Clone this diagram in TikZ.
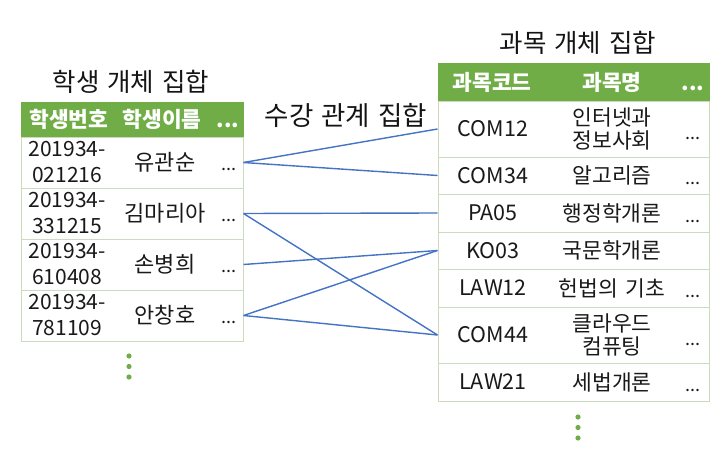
\documentclass[tikz,border=0pt]{standalone}
\usepackage{fontspec}
\setmainfont{Noto Sans CJK KR}
\newcommand{\wgap}{\hspace{8pt}}
\begin{document}
\begin{tikzpicture}[x=1pt,y=-1pt,
  grid/.style={draw={rgb,255:red,204;green,218;blue,190},line width=1pt,fill=white,inner sep=0pt},
  hdr/.style={fill={rgb,255:red,112;green,173;blue,71},draw={rgb,255:red,112;green,173;blue,71},inner sep=0pt},
  htxt/.style={text=white,font=\fontsize{21.5}{24}\selectfont\bfseries,inner sep=0pt},
  ctxt/.style={text={rgb,255:red,25;green,25;blue,25},font=\fontsize{21}{26}\selectfont,inner sep=0pt,align=center},
  ntxt/.style={text={rgb,255:red,25;green,25;blue,25},font=\fontsize{22}{26}\selectfont,inner sep=0pt,align=center},
  rtxt/.style={text={rgb,255:red,25;green,25;blue,25},font=\fontsize{21.5}{22.5}\selectfont,inner sep=0pt,align=center},
  dtxt/.style={text={rgb,255:red,25;green,25;blue,25},font=\fontsize{18}{20}\selectfont,inner sep=0pt},
  ttl/.style={text={rgb,255:red,20;green,20;blue,20},font=\fontsize{25.5}{28}\selectfont,inner sep=0pt},
  mttl/.style={text={rgb,255:red,20;green,20;blue,20},font=\fontsize{26.5}{28}\selectfont,inner sep=0pt},
  link/.style={draw={rgb,255:red,68;green,114;blue,196},line width=1.4pt},
  gdot/.style={fill={rgb,255:red,112;green,173;blue,71},draw=none}
]
\useasboundingbox (0,0) rectangle (721,455);

% titles
\node[ttl] (tL) at (131,82) {학생\wgap 개체\wgap 집합};
\node[ttl] (tR) at (578,43) {과목\wgap 개체\wgap 집합};
\node[mttl] (tM) at (346,115) {수강\wgap 관계\wgap 집합};

% left table
\node[hdr,minimum width=222pt,minimum height=35pt] (LH) at (132,119.5) {};
\node[htxt] (LH1) at (69,119.5) {학생번호};
\node[htxt] (LH2) at (162,119.5) {학생이름};
\node[htxt] (LH3) at (228,119.5) {\vphantom{학}...};
\foreach \i/\y in {1/162.5,2/213.5,3/264.5,4/315.5}{
  \node[grid,minimum width=222pt,minimum height=51pt] (L\i) at (132,\y) {};
}
\node[ctxt] (L1a) at (67,162.5) {201934-\\021216};
\node[ntxt] (L1b) at (165,162.5) {유관순};
\node[dtxt] (L1c) at (229,164) {\vphantom{학}...};
\node[ctxt] (L2a) at (67,213.5) {201934-\\331215};
\node[ntxt] (L2b) at (165,213.5) {김마리아};
\node[dtxt] (L2c) at (229,215) {\vphantom{학}...};
\node[ctxt] (L3a) at (67,264.5) {201934-\\610408};
\node[ntxt] (L3b) at (165,264.5) {손병희};
\node[dtxt] (L3c) at (229,266) {\vphantom{학}...};
\node[ctxt] (L4a) at (67,315.5) {201934-\\781109};
\node[ntxt] (L4b) at (165,315.5) {안창호};
\node[dtxt] (L4c) at (229,317) {\vphantom{학}...};

% right table
\node[hdr,minimum width=271pt,minimum height=38pt] (RH) at (573.5,82) {};
\node[htxt] (RH1) at (492,82) {과목코드};
\node[htxt] (RH2) at (612,82) {과목명};
\node[htxt] (RH3) at (693,82) {\vphantom{학}...};
\foreach \i/\y/\h in {1/129/56,2/175.5/37,3/213/38,4/250.5/37,5/288/38,6/335/56,7/382/38}{
  \node[grid,minimum width=271pt,minimum height=\h pt] (R\i) at (573.5,\y) {};
}
\node[rtxt] (R1a) at (493,129) {COM12};
\node[rtxt] (R1b) at (612,129) {인터넷과\\정보사회};
\node[dtxt] (R1c) at (693,133) {\vphantom{학}...};
\node[rtxt] (R2a) at (493,175.5) {COM34};
\node[rtxt] (R2b) at (612,175.5) {알고리즘};
\node[dtxt] (R2c) at (693,178) {\vphantom{학}...};
\node[rtxt] (R3a) at (493,213) {PA05};
\node[rtxt] (R3b) at (612,213) {행정학개론};
\node[dtxt] (R3c) at (693,216) {\vphantom{학}...};
\node[rtxt] (R4a) at (493,250.5) {KO03};
\node[rtxt] (R4b) at (612,250.5) {국문학개론};
\node[rtxt] (R5a) at (493,288) {LAW12};
\node[rtxt] (R5b) at (612,288) {헌법의\wgap 기초};
\node[dtxt] (R5c) at (693,291) {\vphantom{학}...};
\node[rtxt] (R6a) at (493,335) {COM44};
\node[rtxt] (R6b) at (612,335) {클라우드\\컴퓨팅};
\node[dtxt] (R6c) at (693,339) {\vphantom{학}...};
\node[rtxt] (R7a) at (493,382) {LAW21};
\node[rtxt] (R7b) at (612,382) {세법개론};
\node[dtxt] (R7c) at (693,385) {\vphantom{학}...};

% connectors
\draw[link] (L1.east) -- (R1.west);
\draw[link] (L1.east) -- (R2.west);
\draw[link] (L2.east) -- (R3.west);
\draw[link] (L2.east) -- (R6.west);
\draw[link] (L3.east) -- (R4.west);
\draw[link] (L4.east) -- (R4.west);
\draw[link] (L4.east) -- (R6.west);

% continuation dots
\foreach \y [count=\k] in {356,366.5,377}{
  \fill[gdot] (129,\y) circle (2.6pt) coordinate (dl\k);
}
\foreach \y [count=\k] in {417,427.5,438}{
  \fill[gdot] (578,\y) circle (2.6pt) coordinate (dr\k);
}
\end{tikzpicture}
\end{document}
